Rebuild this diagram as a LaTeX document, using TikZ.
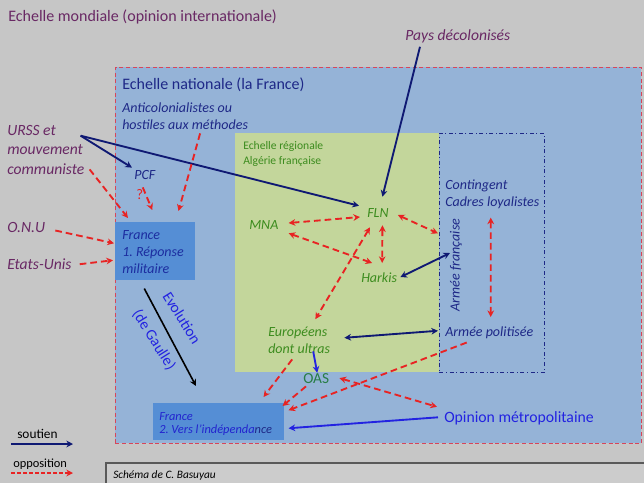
\documentclass[tikz,border=0pt]{standalone}
\usepackage{fontspec}
\setmainfont{Carlito}
\usepackage{tikz}
\usetikzlibrary{arrows.meta,shapes,positioning,calc}

\definecolor{fondgris}{RGB}{198,198,198}
\definecolor{bleunat}{RGB}{149,179,215}
\definecolor{vertreg}{RGB}{195,214,155}
\definecolor{bleufr}{RGB}{85,142,213}
\definecolor{violet}{RGB}{105,40,100}
\definecolor{marine}{RGB}{30,40,135}
\definecolor{flecheb}{RGB}{15,25,115}
\definecolor{vert}{RGB}{60,140,30}
\definecolor{vertoas}{RGB}{40,125,70}
\definecolor{rouge}{RGB}{232,35,35}
\definecolor{bleuvif}{RGB}{35,35,225}
\definecolor{bleufrtxt}{RGB}{28,45,160}
\definecolor{bordrose}{RGB}{215,70,90}

\tikzset{
  lab/.style={inner sep=0pt,anchor=base west,align=left},
  titre/.style={lab,text=violet,font=\fontsize{12}{14}\selectfont},
  monde/.style={lab,text=violet,font=\fontsize{11.7}{14.6}\selectfont\itshape},
  nat/.style={lab,text=marine,font=\fontsize{10.5}{12.75}\selectfont\itshape},
  alg/.style={lab,text=vert,font=\fontsize{10.5}{12.75}\selectfont\itshape},
  cadre/.style={inner sep=0pt,anchor=north west},
  francebox/.style={cadre,fill=bleufr},
  soutien/.style={->,draw=flecheb,line width=1.4pt},
  opposition/.style={->,draw=rouge,line width=1.4pt,dash pattern=on 5pt off 3pt},
}

\begin{document}
\begin{tikzpicture}[x=0.75pt,y=-0.75pt,>={Stealth[length=5pt,width=5pt]}]
\useasboundingbox (0,0) rectangle (644,483);
\fill[fondgris] (0,0) rectangle (644,483);

% les trois echelles
\node[cadre,fill=bleunat,draw=bordrose,line width=0.6pt,densely dashed,
      minimum width=394.5pt,minimum height=282pt] (france) at (115,67) {};
\node[cadre,fill=vertreg,minimum width=153pt,minimum height=179.25pt] (algerie) at (235,133) {};
\node[cadre,draw=marine,line width=0.6pt,dash dot,
      minimum width=78.75pt,minimum height=179.25pt] (armee) at (439,133) {};

\node[titre] (mondiale) at (8,21) {Echelle mondiale (opinion internationale)};
\node[titre,text=marine] (nationale) at (122,89) {Echelle nationale (la France)};
\node[lab,text=vert,font=\fontsize{8.7}{11.25}\selectfont] (regionale) at (243,164) {Echelle régionale\\Algérie française};

% acteurs exterieurs
\node[monde] (pays) at (405,40) {Pays décolonisés};
\node[monde] (urss) at (7,174) {URSS et\\mouvement\\communiste};
\node[monde] (onu) at (7,232) {O.N.U};
\node[monde] (etats) at (7,269) {Etats-Unis};

% acteurs nationaux
\node[nat] (anticol) at (122,129) {Anticolonialistes ou\\hostiles aux méthodes};
\node[nat] (pcf) at (134,179) {PCF};
\node[lab,text=rouge,font=\fontsize{11}{13}\selectfont] (doute) at (136,199) {?};
\node[francebox,minimum width=60pt,minimum height=43.5pt] (france1) at (115,222) {};
\node[lab,text=bleufrtxt,font=\fontsize{10.5}{12.4}\selectfont\itshape\frenchspacing] (france1txt) at (122,273)
      {France\\1. Réponse\\militaire};
\node[francebox,minimum width=98.25pt,minimum height=27.75pt] (france2) at (153,403) {};
\node[lab,text=bleuvif!80!marine,font=\fontsize{9.3}{9.75}\selectfont\itshape\frenchspacing] (france2txt) at (159,433)
      {France\\2. Vers l'indépenda\textcolor{marine}{nce}};
\node[lab,text=bleuvif,font=\fontsize{11.8}{14}\selectfont] (opinion) at (444,422) {Opinion métropolitaine};

% acteurs algeriens
\node[alg] (fln) at (367,217) {FLN};
\node[alg] (mna) at (249,229) {MNA};
\node[alg] (harkis) at (361,282) {Harkis};
\node[alg] (europeens) at (268,353) {Européens\\dont ultras};
\node[lab,text=vertoas,font=\fontsize{11.5}{14}\selectfont] (oas) at (303,383) {OAS};

% armee
\node[nat] (contingent) at (445,206) {Contingent\\Cadres loyalistes};
\node[nat,anchor=center,rotate=90] (armeefr) at (456,265) {Armée française};
\node[nat] (politisee) at (445,336) {Armée politisée};

% evolution
\node[text=bleuvif,font=\fontsize{11.5}{14}\selectfont,rotate=-58,inner sep=0pt] (evol) at (182,318) {Evolution};
\node[text=bleuvif,font=\fontsize{11.5}{14}\selectfont,rotate=-58,inner sep=0pt] (gaulle) at (154,340) {(de Gaulle)};
\draw[->,line width=1.2pt] ([shift={(-11,8)}]france1.south) -- ([shift={(43,-17)}]france2.north west);

% soutiens
\coordinate (urssout) at ([shift={(-4,11)}]urss.north east);
\draw[soutien] (urssout) -- ([shift={(-2,-2)}]pcf.north west);
\draw[soutien] (urssout) -- ([shift={(-8,-2)}]fln.north west);
\draw[soutien] ([shift={(15,4)}]pays.south west) -- ([shift={(4.5,-11)}]fln.north);
\draw[soutien,<->] ([shift={(3,0)}]harkis.east) -- ([shift={(-6,-12)}]armeefr.center);
\draw[soutien,<->] ([shift={(14,-2)}]europeens.east) -- ([shift={(-7,-1.5)}]politisee.west);
\draw[soutien,draw=bleuvif] ([shift={(14,-2)}]europeens.south) -- ([shift={(1,0)}]oas.north);
\draw[soutien,draw=bleuvif] ([shift={(-6,-0.5)}]opinion.west) -- ([shift={(4,6.5)}]france2.east);

% oppositions
\draw[opposition] ([shift={(5,-5)}]urss.south east) -- ([shift={(13,-4)}]france1.north west);
\draw[opposition] ([shift={(-2,8)}]pcf.south) -- ([shift={(-3,-12)}]france1.north);
\draw[opposition] ([shift={(15,4)}]anticol.south) -- ([shift={(-17,-11)}]france1.north east);
\draw[opposition] ([shift={(10,3.5)}]onu.east) -- ([shift={(-1,-8)}]france1.west);
\draw[opposition] ([shift={(8,0.5)}]etats.east) -- ([shift={(-2,9)}]france1.west);
\draw[opposition,<->] ([shift={(10,-1.5)}]mna.east) -- ([shift={(-7,4.5)}]fln.west);
\draw[opposition,<->] ([shift={(10,4)}]mna.south east) -- ([shift={(-7,-9)}]harkis.north);
\draw[opposition,<->] ([shift={(4.5,8)}]fln.south) -- ([shift={(3,-9)}]harkis.north);
\draw[opposition,<->] ([shift={(9,2.5)}]fln.east) -- ([shift={(-1,-19.5)}]armee.west);
\draw[opposition,<->] ([shift={(3,10)}]fln.south west) -- ([shift={(-15,-7)}]europeens.north east);
\draw[opposition,<->] ([shift={(-1.5,9)}]contingent.south) -- ([shift={(1.5,-9)}]politisee.north);
\draw[opposition] ([shift={(-7,6)}]europeens.south) -- ([shift={(-21,-6)}]france2.north east);
\draw[opposition] ([shift={(3,3)}]oas.south west) -- ([shift={(-2,3)}]france2.north east);
\draw[opposition] ([shift={(-22.5,4)}]politisee.south) -- ([shift={(4,-11.5)}]france2.east);
\draw[opposition,<->] ([shift={(10,0)}]oas.east) -- ([shift={(-7,-4)}]opinion.north west);

% legende
\node[lab,text=black,font=\fontsize{10}{12}\selectfont] (legs) at (17,438) {soutien};
\node[lab,text=black,font=\fontsize{9.3}{12}\selectfont] (lego) at (13,467) {opposition};
\coordinate (legsA) at (11,444);
\coordinate (legsB) at (73,444);
\coordinate (legoA) at (11,473);
\coordinate (legoB) at (73,473);
\draw[soutien] (legsA) -- (legsB);
\draw[opposition,dash pattern=on 3pt off 1.5pt] (legoA) -- (legoB);

\draw[fill=fondgris!90!white,draw=black!65,line width=0.9pt] (106,463) rectangle (650,492);
\node[lab,text=black,font=\fontsize{8.5}{10}\selectfont\itshape] (auteur) at (113,478) {Schéma de C. Basuyau};
\end{tikzpicture}
\end{document}
